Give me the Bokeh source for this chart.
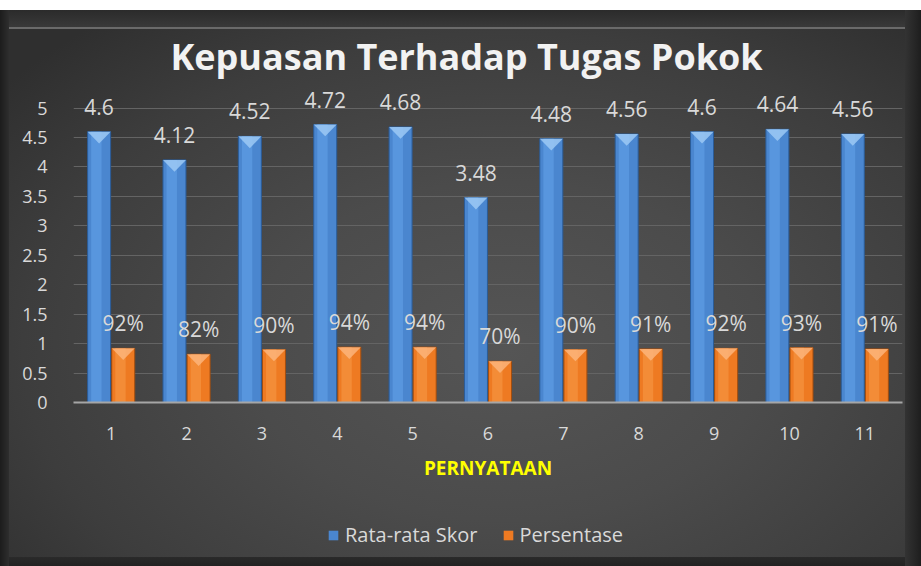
from bokeh.plotting import figure
from bokeh.layouts import column
from bokeh.models import (ColumnDataSource, Label, LabelSet, Legend, LegendItem,
                          FixedTicker)
from bokeh.core.properties import value
from bokeh.embed import file_html
from bokeh.resources import INLINE

# ---- data ----
categories = [1, 2, 3, 4, 5, 6, 7, 8, 9, 10, 11]
skor = [4.6, 4.12, 4.52, 4.72, 4.68, 3.48, 4.48, 4.56, 4.6, 4.64, 4.56]
persen = [0.92, 0.82, 0.90, 0.94, 0.94, 0.70, 0.90, 0.91, 0.92, 0.93, 0.91]
skor_labels = ["4.6", "4.12", "4.52", "4.72", "4.68", "3.48", "4.48", "4.56", "4.6", "4.64", "4.56"]
persen_labels = ["92%", "82%", "90%", "94%", "94%", "70%", "90%", "91%", "92%", "93%", "91%"]
y_ticks = [0, 0.5, 1, 1.5, 2, 2.5, 3, 3.5, 4, 4.5, 5]
y_tick_labels = ["0", "0.5", "1", "1.5", "2", "2.5", "3", "3.5", "4", "4.5", "5"]
title_text = "Kepuasan Terhadap Tugas Pokok"
x_title = "PERNYATAAN"
series_names = ["Rata-rata Skor", "Persentase"]

OFF = 0.16
W = 0.305
FONT = "Open Sans"
TXT = "#d9d9d9"
BLUE, BLUE_EDGE, BLUE_HI, BLUE_TOP = "#4a86cf", "#2b5c98", "#62a2e8", "#9cc9f5"
ORANGE, ORANGE_EDGE, ORANGE_HI, ORANGE_TOP = "#ee7a22", "#a24d0f", "#f89a48", "#fbb47a"
FRAME_LEFT = 73


def bare(fig):
    fig.background_fill_color = None
    fig.border_fill_color = None
    fig.outline_line_color = None
    return fig


# ---------- title strip ----------
pt = bare(figure(width=921, height=87, output_backend="svg", toolbar_location=None,
                 x_range=(0, 1), y_range=(0, 1), min_border=0))
pt.axis.visible = False
pt.grid.visible = False
pt.add_layout(Label(x=466 - FRAME_LEFT, y=31, x_units="screen", y_units="screen",
                    text=title_text, text_align="center", text_baseline="alphabetic",
                    text_font=FONT, text_font_style="bold", text_font_size="36px",
                    text_color="#f2f2f2"))

# ---------- main chart ----------
xb = [c - OFF for c in categories]
xo = [c + OFF for c in categories]
src_b = ColumnDataSource(dict(x=xb, top=skor, lab=skor_labels))
src_o = ColumnDataSource(dict(x=xo, top=persen, lab=persen_labels))

p = bare(figure(width=921, height=419, output_backend="svg", toolbar_location=None,
                x_range=(0.5, 11.5), y_range=(0, 5.35),
                min_border_left=FRAME_LEFT, min_border_right=19, min_border_top=0,
                min_border_bottom=104))

p.vbar(x="x", top="top", width=W, source=src_b, bottom=0,
       fill_color=BLUE, line_color=BLUE_EDGE, line_width=1)
p.vbar(x=[x - W * 0.12 for x in xb], top=skor, width=W * 0.45,
       fill_color=BLUE_HI, line_color=None, fill_alpha=0.6)
p.vbar(x="x", top="top", width=W, source=src_o, bottom=0,
       fill_color=ORANGE, line_color=ORANGE_EDGE, line_width=1)
p.vbar(x=[x - W * 0.12 for x in xo], top=persen, width=W * 0.45,
       fill_color=ORANGE_HI, line_color=None, fill_alpha=0.55)


def tri(xs, tops, dy):
    X, Y = [], []
    for x, t in zip(xs, tops):
        X.append([x - W / 2, x + W / 2, x])
        Y.append([t, t, t - dy])
    return X, Y


tx, ty = tri(xb, skor, 0.2)
p.patches(tx, ty, fill_color=BLUE_TOP, line_color=None, fill_alpha=0.85)
tx, ty = tri(xo, persen, 0.2)
p.patches(tx, ty, fill_color=ORANGE_TOP, line_color=None, fill_alpha=0.85)

for src in (src_b, src_o):
    p.add_layout(LabelSet(x="x", y="top", text="lab", source=src, y_offset=17,
                          text_align="center", text_baseline="alphabetic",
                          text_font=value(FONT), text_font_size=value("21px"),
                          text_color=value(TXT)))

p.xaxis.ticker = FixedTicker(ticks=categories)
p.yaxis.ticker = FixedTicker(ticks=y_ticks)
p.yaxis.major_label_overrides = {t: l for t, l in zip(y_ticks, y_tick_labels)}
for ax in (p.xaxis, p.yaxis):
    ax.major_tick_line_color = None
    ax.minor_tick_line_color = None
    ax.major_label_text_font = FONT
    ax.major_label_text_font_size = "18px"
    ax.major_label_text_color = TXT
p.yaxis.axis_line_color = None
p.yaxis.major_label_standoff = 20
p.xaxis.axis_line_color = "#a6a6a6"
p.xaxis.axis_line_width = 2
p.xaxis.major_label_standoff = 18
p.xaxis.axis_label = x_title
p.xaxis.axis_label_text_font = FONT
p.xaxis.axis_label_text_font_style = "bold"
p.xaxis.axis_label_text_font_size = "19px"
p.xaxis.axis_label_text_color = "#ffff00"
p.xaxis.axis_label_standoff = 12
p.xgrid.grid_line_color = None
p.ygrid.grid_line_color = "#646464"
p.ygrid.grid_line_width = 1

# ---------- legend strip ----------
pl = bare(figure(width=921, height=60, output_backend="svg", toolbar_location=None,
                 x_range=(0, 1), y_range=(0, 1), min_border=0))
pl.axis.visible = False
pl.grid.visible = False
# legend keys only: zero-height bars, nothing visible in the strip itself
lb = pl.vbar(x=[0.5], top=[0], bottom=[0], width=0.01, fill_color=BLUE, line_color=None)
lo = pl.vbar(x=[0.5], top=[0], bottom=[0], width=0.01, fill_color=ORANGE, line_color=None)
legend = Legend(items=[LegendItem(label=series_names[0], renderers=[lb]),
                       LegendItem(label=series_names[1], renderers=[lo])],
                location=(327 - FRAME_LEFT, 18), orientation="horizontal",
                background_fill_alpha=0, border_line_color=None,
                label_text_font=FONT, label_text_font_size="20px",
                label_text_color=TXT, glyph_width=12, glyph_height=12,
                label_standoff=6, spacing=24, padding=0, margin=0)
pl.add_layout(legend)

layout = column(pt, p, pl, spacing=0)
layout.styles = {
    "background": ", ".join([
        "linear-gradient(#ffffff, #ffffff) left top / 100% 10px no-repeat",
        "linear-gradient(to right, #1c1c1c, #2e2e2e) left top / 9px 100% no-repeat",
        "linear-gradient(to right, #333333, #1e1e1e) right top / 16px 100% no-repeat",
        "linear-gradient(#2a2a2a, #222222) left bottom / 100% 9px no-repeat",
        "linear-gradient(#6a6a6a, #6a6a6a) left 27px / 100% 2px no-repeat",
        "linear-gradient(#2b2b2b, #3a3a3a) left 10px / 100% 18px no-repeat",
        "radial-gradient(ellipse 70% 75% at 55% 62%, #555555 0%, #4b4b4b 40%, #3d3d3d 75%, #2f2f2f 100%)",
    ]),
}

open("out.html", "w").write(file_html(layout, INLINE))
